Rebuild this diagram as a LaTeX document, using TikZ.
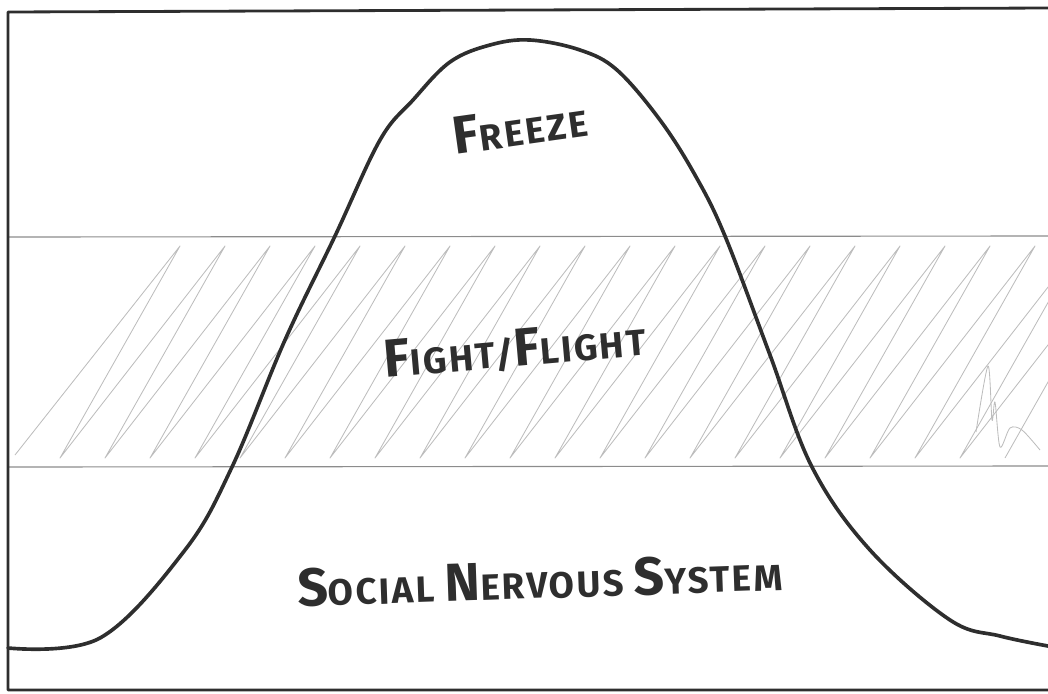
\documentclass[tikz,border=0pt]{standalone}
\usepackage{fontspec}
\setmainfont{Fira Sans}
\usetikzlibrary{calc}
\definecolor{pencil}{HTML}{2E2E2E}
\definecolor{lead}{HTML}{8C8C8C}
\definecolor{hatch}{HTML}{BDBDBD}
\newcommand{\initcap}[1]{{\fontsize{38}{40}\selectfont #1}}

\begin{document}
\begin{tikzpicture}[x=0.025cm,y=-0.025cm,
  frame/.style={pencil,line width=2pt,line cap=round,line join=round},
  bandline/.style={lead,line width=0.8pt},
  scribble/.style={hatch,line width=0.6pt,line join=round},
  bell/.style={pencil,line width=2.6pt,line cap=round},
  zone/.style={font=\fontsize{26}{30}\selectfont\bfseries\addfontfeature{LetterSpace=6},text=pencil,inner sep=0pt}]
\useasboundingbox (0,0) rectangle (1048,693);
% hatching of the middle band
\begin{scope}
\clip (8,238) rectangle (1048,466);
\draw[scribble] (15,455) \foreach \x in {15,60,...,960} { -- (\x+165,246) -- (\x+45,458) };
\end{scope}
\draw[scribble] plot[smooth] coordinates {(976,432) (988,366) (992,420) (995,402) (1000,447) (1010,428) (1022,430) (1040,450)};
% band edges
\draw[bandline] (8,237) -- (1048,236);
\draw[bandline] (8,467) -- (1048,466);
% frame
\draw[frame] (1048,690) -- (8,690) -- (8,12) -- (1048,8);
% bell curve
\draw[bell] plot[smooth,tension=0.6] coordinates {(8,648) (100,638) (185,550) (232,467) (285,340) (335,236) (380,140) (413,100) (450,62) (490,45) (530,40) (580,50) (617,70) (660,120) (695,175) (725,236) (770,355) (812,467) (870,550) (950,620) (1000,636) (1048,646)};
% labels
\node[zone,rotate=8] (freeze) at (520,127) {\initcap{F}REEZE};
\node[zone,rotate=5] (fight) at (515,350) {\initcap{F}IGHT/\initcap{F}LIGHT};
\node[zone,rotate=2] (social) at (540,580) {\initcap{S}OCIAL \initcap{N}ERVOUS \initcap{S}YSTEM};
\end{tikzpicture}
\end{document}
